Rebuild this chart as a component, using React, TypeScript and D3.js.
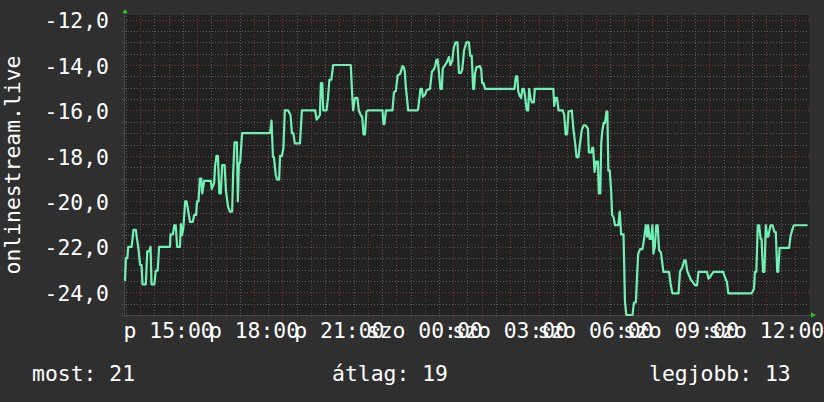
import React from "react";
import * as d3 from "d3";

// ---- data ----
const fridayTimes = ["13:28","13:30","13:33","13:35","13:42","13:46","13:51","13:53","13:56","14:00","14:03","14:05","14:12","14:15","14:19","14:22","14:24","14:30","14:33","14:37","14:40","15:03","15:04","15:09","15:12","15:15","15:18","15:24","15:26","15:28","15:31","15:35","15:38","15:42","15:45","15:51","15:54","15:58","16:00","16:03","16:06","16:09","16:11","16:15","16:29","16:31","16:36","16:38","16:41","16:44","16:47","16:50","16:53","16:58","17:01","17:05","17:09","17:14","17:16","17:19","17:24","17:26","17:28","17:31","17:35","18:34","18:37","18:40","18:42","18:46","18:49","18:53","18:55","18:59","19:02","19:05","19:12","19:17","19:20","19:23","19:26","19:37","19:41","20:09","20:12","20:16","20:19","20:21","20:24","20:26","20:33","20:36","20:39","20:43","20:47","21:24","21:27","21:29","21:33","21:38","21:41","21:46","21:48","21:51","21:54","21:57","22:00","22:31","22:33","22:35","22:38","22:52","22:55","22:59","23:03","23:08","23:13","23:16","23:18","23:20","23:23","23:25","23:44","23:46","23:51","23:54","23:56"];
const fridayValues = [-23.5,-22.5,-22.5,-22.0,-22.0,-21.25,-21.25,-21.6,-22.0,-22.8,-22.8,-23.65,-23.65,-22.2,-22.2,-22.0,-23.65,-23.65,-23.05,-23.05,-22.0,-22.0,-21.45,-21.45,-21.05,-21.05,-22.0,-22.0,-21.0,-21.5,-21.2,-20.0,-20.0,-20.5,-20.9,-20.9,-20.6,-20.6,-20.0,-20.0,-19.0,-19.0,-19.65,-19.1,-19.1,-19.45,-19.2,-18.45,-18.0,-18.0,-19.65,-19.65,-18.4,-18.4,-19.55,-20.2,-20.45,-20.45,-18.85,-17.4,-17.4,-20.0,-18.4,-18.25,-17.0,-17.0,-16.45,-18.05,-18.05,-18.85,-19.05,-19.05,-18.0,-18.0,-17.65,-16.0,-16.0,-16.2,-17.0,-17.0,-17.45,-17.45,-16.0,-16.0,-16.4,-16.3,-16.2,-14.8,-14.8,-16.0,-16.0,-15.45,-14.65,-14.65,-14.0,-14.0,-15.3,-16.0,-15.45,-15.45,-16.0,-16.25,-16.25,-17.05,-17.05,-16.05,-16.0,-16.0,-16.6,-16.6,-16.0,-16.0,-15.2,-15.15,-14.45,-14.4,-14.05,-14.1,-14.3,-14.95,-15.55,-16.0,-16.0,-15.95,-15.05,-15.05,-15.4];

const saturdayTimes = ["00:01","00:04","00:11","00:15","00:19","00:22","00:24","00:27","00:30","00:33","00:36","00:38","00:43","00:47","00:51","00:54","00:58","01:01","01:05","01:09","01:12","01:16","01:19","01:23","01:28","01:33","01:36","01:39","01:42","01:44","01:46","01:49","01:56","01:59","02:01","02:04","02:07","03:09","03:12","03:15","03:17","03:20","03:23","03:26","03:29","03:31","03:35","03:38","03:40","03:43","03:46","03:50","03:52","04:31","04:33","04:36","04:39","04:42","04:51","04:54","04:57","05:00","05:03","05:10","05:13","05:17","05:20","05:24","05:27","05:31","05:35","05:39","05:44","05:46","05:51","05:53","05:55","05:58","06:01","06:05","06:07","06:10","06:12","06:14","06:17","06:20","06:23","06:25","06:27","06:30","06:33","06:35","06:38","06:41","06:48","06:51","06:54","06:59","07:02","07:05","07:18","07:21","07:25","07:28","07:30","07:34","07:39","07:43","07:46","07:49","07:51","07:54","07:57","08:00","08:02","08:05","08:08","08:11","08:14","08:18","08:23","08:35","08:38","08:42","08:55","08:58","09:03","09:07","09:10","09:13","09:17","09:21","09:25","09:30","09:34","09:37","09:55","09:58","10:01","10:05","10:09","10:29","10:33","10:37","10:40","11:29","11:34","11:36","11:39","11:42","11:45","11:48","11:50","11:53","11:56","11:59","12:02","12:04","12:09","12:13","12:17","12:20","12:23","12:25","12:28","12:48","12:51","12:54","12:58","13:27"];
const saturdayValues = [-15.3,-15.1,-15.05,-14.3,-14.2,-14.05,-13.8,-13.75,-14.35,-15.05,-15.05,-14.15,-14.0,-13.85,-13.65,-14.0,-13.8,-13.25,-13.0,-13.0,-14.35,-14.35,-14.2,-13.35,-13.0,-13.0,-13.6,-13.6,-15.05,-15.05,-14.35,-14.1,-14.05,-14.2,-14.8,-14.8,-15.05,-15.05,-14.5,-14.5,-15.15,-15.35,-15.45,-15.05,-15.05,-15.3,-16.0,-16.0,-15.05,-15.45,-15.65,-15.65,-15.05,-15.05,-15.8,-15.45,-15.45,-16.0,-16.0,-16.2,-17.05,-17.05,-16.05,-16.0,-16.75,-17.45,-18.05,-18.05,-17.5,-16.85,-16.65,-16.65,-16.8,-17.85,-17.85,-17.65,-17.65,-18.7,-18.25,-18.25,-19.65,-19.65,-17.45,-16.95,-16.55,-16.55,-16.05,-16.05,-18.65,-18.65,-19.6,-20.6,-20.7,-21.05,-21.05,-20.45,-21.45,-21.45,-24.4,-25.0,-25.0,-24.45,-24.45,-23.1,-22.3,-22.1,-22.1,-21.55,-21.05,-21.55,-21.05,-21.65,-21.65,-21.05,-22.3,-22.0,-21.05,-21.05,-22.15,-22.25,-23.1,-23.1,-23.6,-24.05,-24.05,-23.1,-22.9,-22.6,-22.6,-23.05,-23.25,-23.45,-23.55,-23.7,-23.7,-23.1,-23.1,-23.4,-23.35,-23.2,-23.1,-23.1,-23.35,-23.55,-24.05,-24.05,-23.85,-23.1,-23.1,-21.05,-21.05,-21.65,-21.65,-23.1,-23.1,-21.05,-21.55,-21.55,-21.05,-21.05,-21.35,-21.35,-23.1,-23.1,-22.05,-22.05,-21.55,-21.3,-21.05,-21.05];

const windowStart = "13:26"; // Friday
const windowEnd = "13:30"; // Saturday
const yDomain = [-25, -11.8];
const yLabelTicks = [-24, -22, -20, -18, -16, -14, -12];
const dayNames = ["v", "h", "k", "sze", "cs", "p", "szo"];
const yTitle = "onlinestream.live";
const legendItems: [string, number][] = [["most", 21], ["átlag", 19], ["legjobb", 13]];

// ---- layout ----
const W = 824, H = 402;
const L = 124, R = 809, T = 15, B = 315;
const FONT = "'DejaVu Sans Mono', monospace";
const FS = 21.4;

const toDate = (day: number, hm: string) => {
  const [h, m] = hm.split(":").map(Number);
  return new Date(2021, 0, day, h, m);
};

const points = [
  ...fridayTimes.map((t, i) => ({ t: toDate(8, t), v: fridayValues[i] })),
  ...saturdayTimes.map((t, i) => ({ t: toDate(9, t), v: saturdayValues[i] })),
];

const x = d3.scaleTime().domain([toDate(8, windowStart), toDate(9, windowEnd)]).range([L, R]);
const y = d3.scaleLinear().domain(yDomain).range([B, T]);

const loc = d3.formatLocale({ decimal: ",", thousands: " ", grouping: [3], currency: ["", ""], minus: "-" });
const fmtY = loc.format(".1f");
const pad = (n: number) => String(n).padStart(2, "0");

export default function App() {
  const line = d3.line<{ t: Date; v: number }>().x(d => x(d.t)).y(d => y(d.v));
  const halfHours = d3.timeMinute.every(30)!.range(x.domain()[0], x.domain()[1]);
  const labelTicks = d3.timeHour.every(3)!.range(x.domain()[0], x.domain()[1]);
  const hLines = d3.range(yDomain[0], yDomain[1] + 1e-9, 0.5);

  return (
    <svg width={W} height={H} style={{ position: "absolute", left: 0, top: 0, display: "block" }}>
      <rect x={0} y={0} width={W} height={H} fill="#2f2f2f" />
      <rect x={L} y={T} width={R - L} height={B - T} fill="#212121" />
      {/* horizontal grid */}
      {hLines.map((v, i) => {
        const major = Math.abs(v % 2) < 1e-9;
        const yy = Math.round(y(v)) + 0.5;
        return (
          <line key={"h" + i} x1={major ? L - 3 : L - 2} x2={R} y1={yy} y2={yy}
            stroke={major ? "#7e3838" : "#5c5c5c"} strokeWidth={1} strokeDasharray="1,2" />
        );
      })}
      {/* vertical grid */}
      {halfHours.map((d, i) => {
        const major = d.getMinutes() === 0;
        const xx = Math.round(x(d)) + 0.5;
        return (
          <line key={"v" + i} x1={xx} x2={xx} y1={T - 2} y2={major ? B + 3 : B + 2}
            stroke={major ? "#7e3838" : "#5c5c5c"} strokeWidth={1} strokeDasharray="1,2" />
        );
      })}
      {/* axes */}
      <line x1={L + 0.5} x2={L + 0.5} y1={T - 2} y2={B} stroke="#4a4a4a" />
      <line x1={L} x2={R + 2} y1={B + 0.5} y2={B + 0.5} stroke="#4a4a4a" />
      <polygon points={`${L + 1},${T - 6} ${L - 1.5},${T - 2} ${L + 3.5},${T - 2}`} fill="#22cc22" />
      <polygon points={`${R + 7},${B} ${R + 2},${B - 2.5} ${R + 2},${B + 2.5}`} fill="#22cc22" />
      {/* data line */}
      <path d={line(points) || ""} fill="none" stroke="#72f0b4" strokeWidth={2.2} strokeLinejoin="round" />
      {/* y labels */}
      {yLabelTicks.map(v => (
        <text key={"yl" + v} x={109} y={y(v) + 8.6} textAnchor="end" fontFamily={FONT} fontSize={FS} fill="#ffffff">
          {fmtY(v)}
        </text>
      ))}
      {/* x labels */}
      {labelTicks.map((d, i) => (
        <text key={"xl" + i} x={x(d)} y={338} textAnchor="middle" fontFamily={FONT} fontSize={FS} fill="#ffffff">
          {`${dayNames[d.getDay()]} ${pad(d.getHours())}:${pad(d.getMinutes())}`}
        </text>
      ))}
      {/* y title */}
      <text transform={`translate(20,${(T + B) / 2}) rotate(-90)`} textAnchor="middle" fontFamily={FONT} fontSize={FS} fill="#ffffff">
        {yTitle}
      </text>
      {/* legend */}
      {legendItems.map(([k, v], i) => (
        <text key={"lg" + i} x={[32, 332, 649][i]} y={381} fontFamily={FONT} fontSize={FS} fill="#ffffff">
          {`${k}: ${v}`}
        </text>
      ))}
    </svg>
  );
}
